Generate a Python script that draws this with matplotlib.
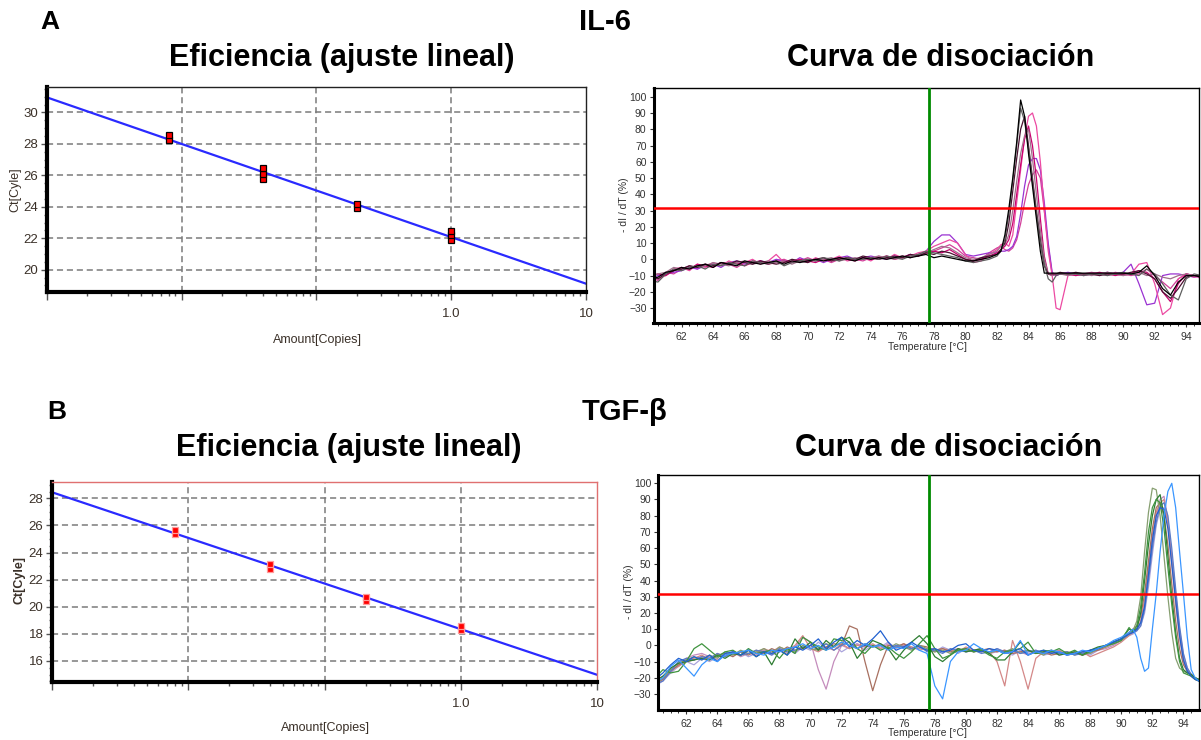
import numpy as np
import matplotlib
matplotlib.use("Agg")
import matplotlib.pyplot as plt
from matplotlib.ticker import FixedLocator, FixedFormatter, NullFormatter, MultipleLocator

plt.rcParams['font.family'] = ['Liberation Sans', 'DejaVu Sans']

W, H = 1201, 740

# ---------------- standard curves (Ct vs amount) ----------------
amount = [0.008, 0.04, 0.2, 1.0]
ct_il6_reps = [[28.25, 28.55], [25.75, 26.1, 26.45], [23.9, 24.15], [21.9, 22.2, 22.45]]
ct_tgf_reps = [[25.35, 25.65], [22.8, 23.15], [20.45, 20.7], [18.3, 18.6]]
std_xtick_labels = ['', '', '', '1.0', '10']
il6_std_yticks = [20, 22, 24, 26, 28, 30]
tgf_std_yticks = [16, 18, 20, 22, 24, 26, 28]

# ---------------- melt curves ----------------
melt_xticks = [62, 64, 66, 68, 70, 72, 74, 76, 78, 80, 82, 84, 86, 88, 90, 92, 94]
melt_yticks = [-30, -20, -10, 0, 10, 20, 30, 40, 50, 60, 70, 80, 90, 100]
cursor_temp_il6 = 77.69
cursor_temp_tgf = 77.65
threshold_il6 = 31.7
threshold_tgf = 31.5

temp_il6 = np.concatenate([np.arange(60.0, 81.75, 0.5),
                           np.arange(82.0, 86.01, 0.25),
                           np.arange(86.5, 95.01, 0.5)])

il6_black = [-12, -11, -8, -7, -5, -6, -4, -3, -5, -2, -3,
             -4, -1, -2, -3, -2, -1, -3, -1, -2, -1, 0,
             -1, 0, 1, 0, -1, 1, 0, 1, 0, 1, 2,
             1, 2, 3, 1, 2, 1, 0, -1, -1, 0, 1,
             3, 5, 15, 31, 50, 72, 98, 88, 65, 45, 25, 5, -8.5, -8.5, -8.5, -8.5, -8.5,
             -8.5, -8.5, -8.5, -8.5, -8.5, -8.5, -8.5, -8.5, -9, -8, -4, -10, -18, -22, -14, -10, -10, -11]
il6_gray = [-13, -14, -9, -6, -7, -5, -4, -6, -3, -4, -2,
            -3, -4, -1, -2, -3, -1, -4, -2, -1, 0, -1,
            1, 0, -1, 1, 0, 0, 1, 0, 2, 1, 0,
            2, 3, 5, 4, 3, 2, 1, -1, -2, -1, 0,
            2, 5, 12, 28, 48, 70, 93, 85, 68, 48, 28, 10, -3, -12, -14, -10, -9,
            -9, -9, -10, -9, -9, -10, -9, -8, -9, -10, -6, -9, -15, -22, -25, -12, -9, -10]
il6_maroon = [-10, -12, -9, -7, -6, -4, -5, -3, -4, -2, -3,
              -1, -2, -3, -1, -2, -3, -2, 0, -1, -2, 0,
              1, -1, 0, 1, 0, 2, 1, 0, 1, 2, 1,
              3, 2, 4, 3, 5, 4, 2, 0, -1, 1, 2,
              3, 6, 10, 22, 42, 62, 80, 88, 70, 50, 30, 12, -4, -9, -9, -9, -8,
              -9, -8, -9, -9, -10, -9, -9, -9, -8, -7, -9, -12, -20, -24, -18, -11, -10, -10]
il6_mauve = [-11, -9, -8, -5, -6, -4, -5, -4, -2, -3, -4,
             -2, -1, -3, -2, -1, -2, -1, -3, -1, 0, -1,
             0, 1, -1, 0, 1, 0, 1, 2, 1, 0, 2,
             1, 3, 4, 6, 8, 7, 4, 1, 0, 1, 3,
             5, 8, 9, 15, 30, 48, 65, 76, 80, 62, 40, 18, 0, -9, -10, -9, -9,
             -10, -9, -9, -10, -9, -8, -9, -10, -9, -8, -10, -9, -11, -12, -10, -9, -10, -11]
il6_magenta = [-10, -9, -10, -7, -5, -6, -3, -4, -5, -2, -3,
               -2, -4, -2, -1, -3, -2, -1, -2, 0, -1, -2,
               0, -1, 1, 0, -1, 1, 0, 1, 2, 0, 1,
               3, 2, 4, 5, 4, 6, 3, 0, -1, 0, 2,
               4, 6, 8, 12, 22, 40, 58, 74, 82, 70, 50, 25, 2, -9, -10, -9, -9,
               -9, -10, -9, -9, -8, -9, -10, -9, -9, -7, -8, -12, -20, -26, -15, -9, -10, -11]
il6_hotpink = [-9, -12, -10, -6, -5, -7, -3, -5, -2, -4, -1,
               -3, -2, 0, -3, -1, 3, -2, -1, 0, -2, 1,
               -1, 0, 2, -1, 0, 1, -1, 2, 0, 3, 1,
               2, 4, 5, 8, 10, 12, 10, 3, -2, -1, 3,
               6, 9, 10, 8, 15, 35, 55, 75, 88, 90, 82, 60, 30, 5, -10, -30, -31,
               -10, -9, -10, -9, -10, -8, -9, -10, -9, -3, -2, -15, -34, -30, -12, -9, -11, -10]
il6_purple = [-12, -10, -9, -8, -7, -5, -6, -4, -3, -5, -2,
              -1, -3, -2, -1, -2, 0, -1, -2, 1, -1, 0,
              -2, 0, 1, 2, 0, 1, 2, 1, 0, 2, 1,
              3, 2, 5, 11, 15, 15, 10, 3, 2, 3, 4,
              4, 5, 5, 6, 8, 14, 28, 45, 58, 62, 62, 55, 35, 10, -8, -10, -9,
              -8, -9, -10, -9, -9, -8, -9, -8, -3, -15, -28, -27, -10, -9, -9, -10, -11, -10]
il6_pink = [-11, -13, -8, -9, -6, -4, -6, -3, -4, -2, -3,
            -5, -2, -1, -2, -3, -1, 0, -2, -1, 1, -1,
            0, -2, 0, 1, 0, -1, 1, 0, 2, 1, 2,
            1, 3, 4, 5, 7, 9, 6, 2, 1, 0, 4,
            7, 8, 6, 5, 7, 12, 22, 35, 46, 52, 55, 50, 30, 8, -9, -10, -9,
            -9, -10, -9, -8, -9, -10, -8, -9, -10, -9, -6, -10, -14, -18, -12, -9, -10, -12]

il6_curves = [il6_pink, il6_purple, il6_hotpink, il6_magenta, il6_mauve, il6_maroon, il6_gray, il6_black]
il6_colors = ['#d2409a', '#9a32d2', '#ec4aa2', '#c8006e', '#a0708c', '#4a1030', '#5e5e5e', '#000000']

temp_tgf = np.concatenate([np.arange(60.0, 90.25, 0.5), np.arange(90.5, 95.01, 0.25)])

tgf_dkgreen = [-22, -19, -14, -11, -10, -9, -8, -9, -6, -8,
               -5, -6, -3, -7, -4, -12, -3, -6, 4, -2,
               2, -3, 3, -1, 5, 2, -8, -2, 3, 1,
               -2, -9, -3, 2, 6, 1, -7, -10, -6, -2,
               -4, -3, -2, -5, -9, -9, -4, 2, -3, -5,
               -4, -3, -6, -5, -4, -6, -3, -1, 0, 2, 4,
               10, 9, 10, 20, 40, 62, 80, 90, 93, 80, 55, 30, 8, -8, -15, -17, -18, -20, -21]
tgf_olive = [-24, -20, -15, -11, -9, -7, -9, -6, -8, -4,
             -6, -3, -5, -4, -2, -5, -1, -3, -4, 0,
             -2, -3, 1, -1, 2, 0, -2, 1, -1, 0,
             -2, 1, -1, -3, 0, -2, -4, -3, -5, -2,
             -3, -4, -2, -5, -3, -4, -2, -5, -3, -4,
             -6, -3, -5, -4, -6, -4, -5, -2, -1, 1, 3,
             7, 9, 15, 30, 58, 82, 97, 96, 80, 55, 30, 8, -8, -14, -16, -17, -18, -20, -21]
tgf_brown = [-23, -21, -16, -12, -10, -9, -7, -8, -6, -5,
             -7, -4, -6, -3, -5, -2, -4, -1, -3, -2,
             0, -3, -1, 1, 0, 12, 10, -10, -28, -12,
             0, -1, 1, -2, 0, -1, -3, -2, -4, -3,
             -2, -4, -3, -2, -4, -3, -5, -4, -3, -5,
             -4, -6, -5, -4, -5, -6, -4, -3, -1, 2, 4,
             8, 10, 12, 18, 32, 52, 72, 85, 88, 80, 62, 38, 15, -2, -12, -16, -18, -20, -22]
tgf_rose = [-24, -21, -15, -13, -9, -8, -6, -9, -5, -7,
            -4, -6, -3, -5, -2, -4, -1, -3, 0, 6,
            -2, -4, -1, -3, 1, -2, 0, -1, 1, -2,
            0, -1, 1, -1, -2, -3, -4, -2, -3, -4,
            -1, -3, -4, -4, -10, -25, 3, -10, -27, -8,
            -4, -5, -3, -6, -5, -4, -7, -5, -3, -1, 2,
            6, 8, 10, 15, 28, 48, 68, 82, 88, 90, 75, 50, 25, 5, -10, -16, -19, -21, -22]
tgf_mauve = [-22, -19, -16, -12, -8, -6, -5, -7, -9, -6,
             -4, -7, -5, -6, -3, -4, -2, -5, -1, 5,
             2, -15, -27, -10, 0, -2, 1, -1, 0, -2,
             1, -1, 0, -2, -1, -3, -2, -4, -3, -2,
             -4, -3, -2, -5, -4, -3, -5, -4, -6, -3,
             -5, -4, -6, -5, -4, -6, -5, -3, -2, 0, 3,
             7, 8, 10, 14, 24, 42, 62, 80, 90, 92, 78, 55, 30, 8, -8, -15, -18, -20, -22]
tgf_lilac = [-25, -22, -17, -13, -10, -12, -8, -10, -7, -5,
             -6, -4, -7, -5, -3, -6, -4, -2, -5, -1,
             -3, 2, -2, 0, -4, -1, 1, -3, 0, -1,
             2, -2, 0, -1, -3, -2, -4, -1, -3, -5,
             -2, -4, -3, -5, -2, -4, -6, -3, -5, -4,
             -6, -5, -3, -6, -4, -5, -6, -3, -1, 1, 3,
             6, 7, 9, 12, 20, 36, 56, 74, 84, 85, 76, 56, 32, 10, -6, -14, -18, -20, -21]
tgf_blue = [-21, -17, -12, -8, -10, -7, -9, -6, -10, -5,
            -4, -6, -3, -7, -4, -5, -3, -6, -1, -3,
            0, 4, -2, 2, 5, -1, 3, 0, 4, 9,
            2, -3, -1, 2, -1, -3, -2, -4, -3, 0,
            1, -3, -4, -2, -3, -5, -4, -2, -6, -4,
            -3, -5, -4, -6, -5, -4, -3, -2, 0, 2, 4,
            7, 8, 10, 14, 24, 44, 65, 80, 85, 84, 72, 50, 28, 6, -9, -16, -19, -21, -22]
tgf_ltblue = [-23, -20, -13, -9, -14, -19, -12, -8, -10, -6,
              -5, -4, -3, -5, -6, -3, -4, -2, -1, 1,
              -2, 0, -3, -1, 2, 0, -2, 1, -1, 0,
              -3, -1, -2, 1, -3, -5, -25, -33, -10, -4,
              -3, 1, -2, -4, -3, -5, -4, 3, -6, -4,
              -5, -3, -4, -6, -5, -3, -4, -2, 0, 3, 5,
              8, 10, 5, -8, -16, -14, 10, 32, 58, 80, 95, 100, 85, 58, 32, 5, -15, -20, -22]
tgf_steel = [-24, -22, -16, -10, -8, -9, -7, -8, -5, -7,
             -4, -6, -5, -3, -4, -6, -2, -4, -3, -1,
             0, -2, 1, -3, 0, 2, -2, 0, -1, 1,
             -2, 0, -1, -2, 0, -4, -3, -5, -2, -3,
             -4, -3, -5, -4, -2, -4, -3, -5, -4, -3,
             -5, -4, -5, -4, -6, -5, -3, -2, 0, 2, 4,
             7, 8, 9, 12, 22, 40, 60, 76, 86, 88, 80, 60, 35, 12, -5, -14, -18, -20, -22]
tgf_green = [-20, -15, -17, -16, -10, -2, 1, -3, -7, -4,
             -3, -6, -2, -5, -4, -3, -8, -2, -5, 5,
             2, -1, -3, 4, 3, 5, -2, -5, 0, -3,
             -1, -5, -8, -4, 1, 6, -2, -8, -6, -3,
             -2, -4, -3, -6, -8, -4, -3, -2, 2, -5,
             -3, -4, -2, -5, -3, -6, -4, -2, 0, 1, 3,
             11, 8, 12, 24, 45, 70, 85, 90, 88, 72, 48, 25, 5, -10, -17, -18, -19, -21, -22]

tgf_curves = [tgf_lilac, tgf_mauve, tgf_rose, tgf_brown, tgf_olive, tgf_steel,
              tgf_dkgreen, tgf_green, tgf_blue, tgf_ltblue]
tgf_colors = ['#aaa4dc', '#c48cbc', '#d48888', '#a87060', '#869e70', '#5a7cc8',
              '#2e7d32', '#3f943f', '#2060d0', '#3a96ff']

for c in il6_curves:
    if len(c) != len(temp_il6):
        raise ValueError('il6 length %d vs %d' % (len(c), len(temp_il6)))
for c in tgf_curves:
    if len(c) != len(temp_tgf):
        raise ValueError('tgf length %d vs %d' % (len(c), len(temp_tgf)))

# ---------------- figure ----------------
fig = plt.figure(figsize=(W / 100, H / 100), dpi=100)


def rect(l, t, r, b):
    return [l / W, 1 - b / H, (r - l) / W, (b - t) / H]


def ftext(x, y, s, **kw):
    fig.text(x / W, 1 - y / H, s, ha='center', va='center', **kw)


lab_col = '#3a3028'


def std_panel(r, reps, ylim, yticks, frame_color, mec, ms):
    ax = fig.add_axes(r)
    ax.set_xscale('log')
    ax.set_xlim(1e-3, 10)
    ax.set_ylim(*ylim)
    ax.xaxis.set_major_locator(FixedLocator([1e-3, 1e-2, 1e-1, 1, 10]))
    ax.xaxis.set_major_formatter(FixedFormatter(std_xtick_labels))
    ax.xaxis.set_minor_locator(FixedLocator([m * 10.0 ** e for e in range(-3, 1) for m in range(2, 10)]))
    ax.xaxis.set_minor_formatter(NullFormatter())
    ax.set_yticks(yticks)
    ax.yaxis.set_minor_locator(MultipleLocator(0.5))
    for v in [1e-2, 1e-1, 1]:
        ax.axvline(v, color='#7a7a7a', ls=(0, (4, 2.5)), lw=1.1, zorder=1)
    for v in yticks:
        ax.axhline(v, color='#7a7a7a', ls=(0, (4, 2.5)), lw=1.1, zorder=1)
    means = [np.mean(rr) for rr in reps]
    m, b = np.polyfit(np.log10(amount), means, 1)
    xs = np.array(ax.get_xlim())
    ax.plot(xs, m * np.log10(xs) + b, color='#2a2aff', lw=1.6, zorder=2)
    for a, rr in zip(amount, reps):
        ax.plot([a] * len(rr), rr, 's', ms=ms, mfc='#ff0000', mec=mec, mew=0.9, zorder=3)
    for s in ['left', 'bottom']:
        ax.spines[s].set_linewidth(3)
        ax.spines[s].set_color('black')
    for s in ['top', 'right']:
        ax.spines[s].set_linewidth(1)
        ax.spines[s].set_color(frame_color)
    ax.tick_params(axis='x', which='major', length=6, width=1, color='#555555', pad=6)
    ax.tick_params(axis='x', which='minor', length=3, width=1, color='#555555')
    ax.tick_params(axis='y', which='major', length=4, width=1, color='#555555', pad=2)
    ax.tick_params(axis='y', which='minor', length=2, width=1, color='#777777')
    for lab in ax.get_xticklabels() + ax.get_yticklabels():
        lab.set_fontsize(9.5)
        lab.set_color(lab_col)
    return ax


std_panel(rect(46.7, 87.3, 586.3, 291.7), ct_il6_reps, (18.6, 31.6), il6_std_yticks, '#222222', 'black', 4.2)
std_panel(rect(51.8, 482.3, 597.3, 681.7), ct_tgf_reps, (14.47, 29.18), tgf_std_yticks, '#e07070', '#ff9a9a', 4.6)

ftext(15, 190, 'Ct[Cyle]', rotation=90, fontsize=9, color=lab_col)
ftext(317, 340, 'Amount[Copies]', fontsize=9, color=lab_col)
ftext(19, 580, 'Ct[Cyle]', rotation=90, fontsize=9, color=lab_col, fontweight='bold')
ftext(325, 728, 'Amount[Copies]', fontsize=9, color=lab_col)


def melt_panel(r, temps, curves, colors, xlim, ylim, cursor, thr):
    ax = fig.add_axes(r)
    for c, col in zip(curves, colors):
        ax.plot(temps, c, color=col, lw=0.9, zorder=2)
    ax.axvline(cursor, color='#008a00', lw=2, zorder=3)
    ax.axhline(thr, color='#ff0000', lw=1.8, zorder=3)
    ax.set_xlim(*xlim)
    ax.set_ylim(*ylim)
    ax.set_xticks(melt_xticks)
    ax.xaxis.set_minor_locator(MultipleLocator(0.5))
    ax.set_yticks(melt_yticks)
    for s in ['left', 'bottom']:
        ax.spines[s].set_linewidth(2.2)
    for s in ['top', 'right']:
        ax.spines[s].set_linewidth(1)
    ax.tick_params(axis='both', which='major', length=3, width=0.8, color='#333333',
                   labelsize=7.5, labelcolor='#333333', pad=2)
    ax.tick_params(axis='x', which='minor', length=2, width=0.7, color='#333333')
    ax.tick_params(axis='x', which='major', pad=4)
    return ax


melt_panel(rect(653.5, 88.3, 1199, 322.7), temp_il6, il6_curves, il6_colors,
           (60.22, 94.81), (-39.0, 105.2), cursor_temp_il6, threshold_il6)
melt_panel(rect(658.3, 474.7, 1198.5, 709.7), temp_tgf, tgf_curves, tgf_colors,
           (60.2, 94.97), (-39.7, 105.3), cursor_temp_tgf, threshold_tgf)

ftext(624, 205, '- dI / dT (%)', rotation=90, fontsize=7.5, color='#333333')
ftext(927, 347, 'Temperature [°C]', fontsize=7.5, color='#333333')
ftext(629, 592, '- dI / dT (%)', rotation=90, fontsize=7.5, color='#333333')
ftext(928, 733, 'Temperature [°C]', fontsize=7.5, color='#333333')

# ---------------- headings ----------------
hb = dict(fontweight='bold', color='black')
ftext(50, 22, 'A', fontsize=19, **hb)
ftext(605, 22, 'IL-6', fontsize=21, **hb)
ftext(57, 412, 'B', fontsize=19, **hb)
ftext(624, 412, 'TGF-β', fontsize=21, **hb)
ftext(342, 58, 'Eficiencia (ajuste lineal)', fontsize=22, **hb)
ftext(941, 58, 'Curva de disociación', fontsize=22, **hb)
ftext(349, 448, 'Eficiencia (ajuste lineal)', fontsize=22, **hb)
ftext(949, 448, 'Curva de disociación', fontsize=22, **hb)

fig.savefig('out.png', dpi=100)
